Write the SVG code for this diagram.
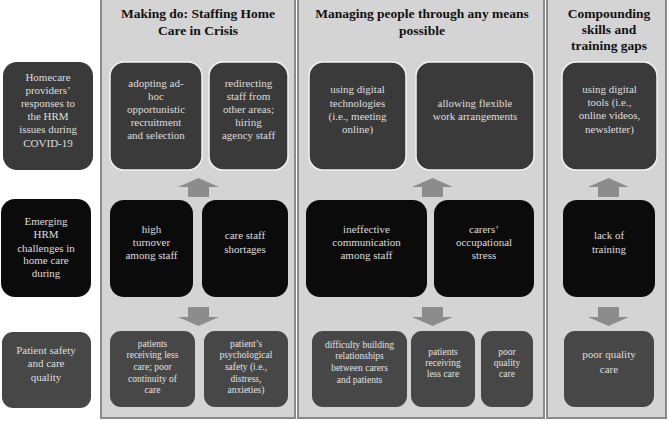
<svg xmlns="http://www.w3.org/2000/svg" width="669" height="421" viewBox="0 0 669 421">
<style>
.panel{fill:#d4d4d4;stroke:#8a8a8a;stroke-width:2}
.r1{fill:#3a3a3a;stroke:#f2f2f2;stroke-width:1.5}
.l1{fill:#3a3a3a}
.r2{fill:#0b0b0b}
.r3{fill:#474747}
.title{font-family:"Liberation Serif","Times New Roman",serif;font-weight:bold;font-size:13.5px;fill:#111;text-anchor:middle}
.t{font-family:"Liberation Serif","Times New Roman",serif;font-size:11px;fill:#dedede;text-anchor:middle}
.s{font-family:"Liberation Serif","Times New Roman",serif;font-size:9.5px;fill:#e2e2e2;text-anchor:middle}
.arrow{fill:#8c8c8c}
</style>
<rect width="669" height="421" fill="#ffffff"/>
<g id="panel-making-do">
<rect class="panel" x="101" y="-5" width="194" height="423"/>
<text class="title" x="198" y="18">Making do: Staffing Home</text>
<text class="title" x="198" y="35">Care in Crisis</text>
</g>
<g id="panel-managing">
<rect class="panel" x="298" y="-5" width="246" height="423"/>
<text class="title" x="422" y="18">Managing people through any means</text>
<text class="title" x="422" y="35">possible</text>
</g>
<g id="panel-compounding">
<rect class="panel" x="547" y="-5" width="119" height="423"/>
<text class="title" x="609" y="18">Compounding</text>
<text class="title" x="609" y="34">skills and</text>
<text class="title" x="609" y="50">training gaps</text>
</g>

<g id="label-responses">
<rect class="l1" x="3" y="62" width="90" height="108" rx="14"/>
<text class="t" x="48" y="81">Homecare</text>
<text class="t" x="48" y="94">providers’</text>
<text class="t" x="48" y="107">responses to</text>
<text class="t" x="48" y="120">the HRM</text>
<text class="t" x="48" y="133">issues during</text>
<text class="t" x="48" y="147">COVID-19</text>
</g>
<g id="label-challenges">
<rect class="r2" x="1" y="199" width="90" height="98" rx="14"/>
<text class="t" x="46" y="225">Emerging</text>
<text class="t" x="46" y="238">HRM</text>
<text class="t" x="46" y="252">challenges in</text>
<text class="t" x="46" y="264">home care</text>
<text class="t" x="46" y="277">during</text>
</g>
<g id="label-patient-safety">
<rect class="r3" x="2" y="332" width="89" height="76" rx="11"/>
<text class="t" x="46" y="354">Patient safety</text>
<text class="t" x="46" y="367">and care</text>
<text class="t" x="46" y="381">quality</text>
</g>

<g id="adhoc-recruitment">
<rect class="r1" x="110" y="62" width="92" height="108" rx="14"/>
<text class="t" x="156" y="87">adopting ad-</text>
<text class="t" x="156" y="100">hoc</text>
<text class="t" x="156" y="113">opportunistic</text>
<text class="t" x="156" y="126">recruitment</text>
<text class="t" x="156" y="139">and selection</text>
</g>
<g id="redirecting-staff">
<rect class="r1" x="209" y="62" width="79" height="108" rx="14"/>
<text class="t" x="248.5" y="87">redirecting</text>
<text class="t" x="248.5" y="100">staff from</text>
<text class="t" x="248.5" y="113">other areas;</text>
<text class="t" x="248.5" y="126">hiring</text>
<text class="t" x="248.5" y="139">agency staff</text>
</g>
<g id="high-turnover">
<rect class="r2" x="110" y="200" width="83" height="97" rx="14"/>
<text class="t" x="151.5" y="233">high</text>
<text class="t" x="151.5" y="246">turnover</text>
<text class="t" x="151.5" y="259">among staff</text>
</g>
<g id="staff-shortages">
<rect class="r2" x="202" y="200" width="86" height="97" rx="14"/>
<text class="t" x="245" y="239">care staff</text>
<text class="t" x="245" y="253">shortages</text>
</g>
<g id="less-care-continuity">
<rect class="r3" x="110" y="331" width="85" height="76" rx="11"/>
<text class="s" x="152.5" y="347">patients</text>
<text class="s" x="152.5" y="358">receiving less</text>
<text class="s" x="152.5" y="370">care; poor</text>
<text class="s" x="152.5" y="382">continuity of</text>
<text class="s" x="152.5" y="393">care</text>
</g>
<g id="psychological-safety">
<rect class="r3" x="204" y="331" width="84" height="76" rx="11"/>
<text class="s" x="246" y="347">patient’s</text>
<text class="s" x="246" y="358">psychological</text>
<text class="s" x="246" y="370">safety (i.e.,</text>
<text class="s" x="246" y="382">distress,</text>
<text class="s" x="246" y="393">anxieties)</text>
</g>

<g id="digital-technologies">
<rect class="r1" x="309" y="62" width="97" height="108" rx="14"/>
<text class="t" x="357.5" y="93">using digital</text>
<text class="t" x="357.5" y="107">technologies</text>
<text class="t" x="357.5" y="120">(i.e., meeting</text>
<text class="t" x="357.5" y="133">online)</text>
</g>
<g id="flexible-work">
<rect class="r1" x="416" y="62" width="118" height="108" rx="14"/>
<text class="t" x="475" y="107">allowing flexible</text>
<text class="t" x="475" y="120">work arrangements</text>
</g>
<g id="ineffective-communication">
<rect class="r2" x="306" y="200" width="121" height="97" rx="14"/>
<text class="t" x="366.5" y="233">ineffective</text>
<text class="t" x="366.5" y="246">communication</text>
<text class="t" x="366.5" y="259">among staff</text>
</g>
<g id="occupational-stress">
<rect class="r2" x="434" y="200" width="100" height="97" rx="14"/>
<text class="t" x="484" y="233">carers’</text>
<text class="t" x="484" y="246">occupational</text>
<text class="t" x="484" y="259">stress</text>
</g>
<g id="difficulty-relationships">
<rect class="r3" x="312" y="331" width="95" height="76" rx="11"/>
<text class="s" x="359.5" y="348">difficulty building</text>
<text class="s" x="359.5" y="359">relationships</text>
<text class="s" x="359.5" y="371">between carers</text>
<text class="s" x="359.5" y="383">and patients</text>
</g>
<g id="less-care">
<rect class="r3" x="411" y="331" width="64" height="76" rx="11"/>
<text class="s" x="443" y="355">patients</text>
<text class="s" x="443" y="366">receiving</text>
<text class="s" x="443" y="377">less care</text>
</g>
<g id="poor-quality-care-2">
<rect class="r3" x="481" y="331" width="52" height="76" rx="11"/>
<text class="s" x="507" y="355">poor</text>
<text class="s" x="507" y="366">quality</text>
<text class="s" x="507" y="377">care</text>
</g>

<g id="digital-tools">
<rect class="r1" x="562" y="62" width="95" height="108" rx="14"/>
<text class="t" x="609.5" y="93">using digital</text>
<text class="t" x="609.5" y="106">tools (i.e.,</text>
<text class="t" x="609.5" y="119">online videos,</text>
<text class="t" x="609.5" y="133">newsletter)</text>
</g>
<g id="lack-of-training">
<rect class="r2" x="563" y="200" width="92" height="97" rx="14"/>
<text class="t" x="609" y="239">lack of</text>
<text class="t" x="609" y="253">training</text>
</g>
<g id="poor-quality-care-3">
<rect class="r3" x="564" y="331" width="90" height="76" rx="11"/>
<text class="t" x="609" y="358">poor quality</text>
<text class="t" x="609" y="373">care</text>
</g>

<g id="connectors">
<defs>
<path id="up" class="arrow" d="M-10.5,19 L-10.5,9 L-20.5,9 L0,0 L20.5,9 L10.5,9 L10.5,19 Z"/>
<path id="down" class="arrow" d="M-10.5,0 L-10.5,10 L-20.5,10 L0,19 L20.5,10 L10.5,10 L10.5,0 Z"/>
</defs>
<use href="#up" x="198.5" y="178"/>
<use href="#down" x="198.5" y="307"/>
<use href="#up" x="432.5" y="178"/>
<use href="#down" x="432.5" y="307"/>
<use href="#up" x="608.5" y="178"/>
<use href="#down" x="608.5" y="307"/>
</g>
</svg>
